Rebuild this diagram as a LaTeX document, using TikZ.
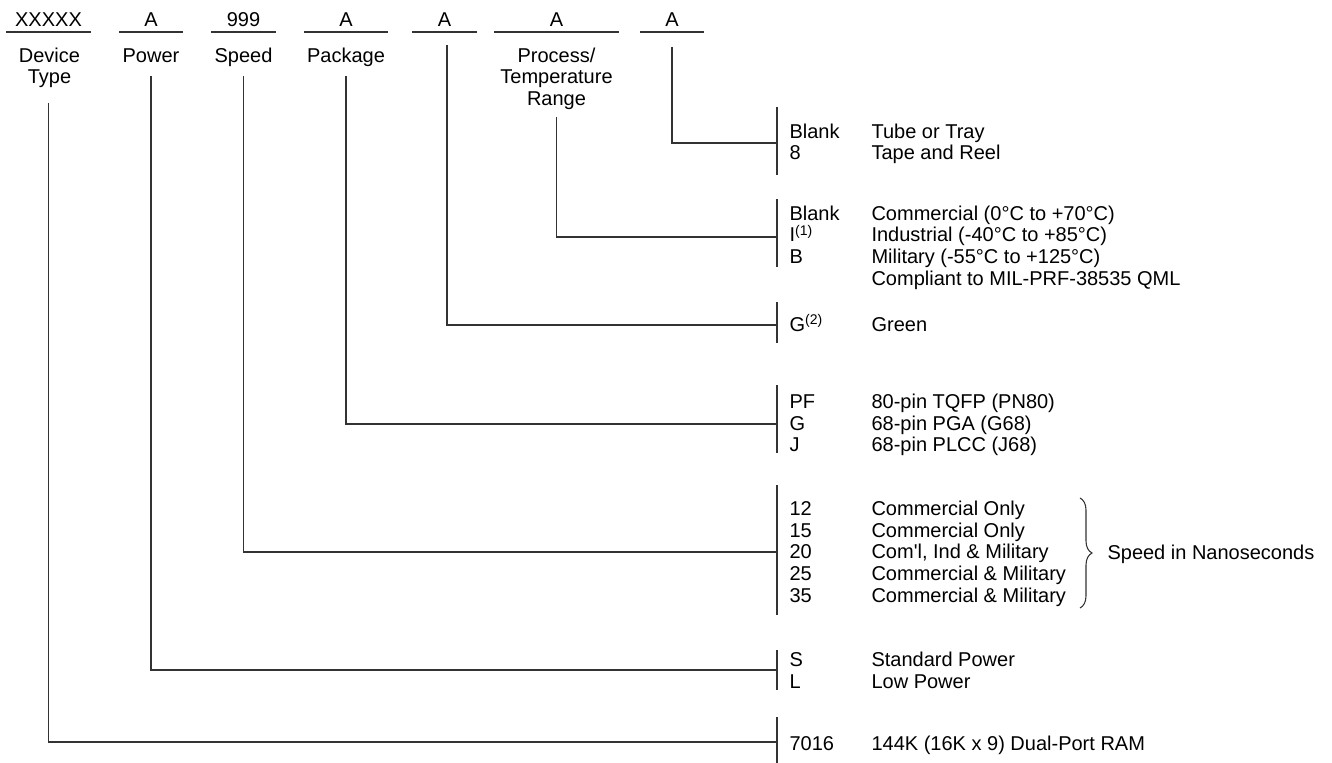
\documentclass[tikz,border=0pt]{standalone}
\usepackage{fontspec}
\setmainfont{Liberation Sans}
\usetikzlibrary{positioning,calc,decorations.pathreplacing}

\begin{document}
\begin{tikzpicture}[
  x=0.75pt, y=-0.75pt, line width=0.8pt,
  font=\fontsize{15}{16.1}\selectfont,
  code/.style={anchor=south, inner xsep=0pt, inner ysep=3.75pt, text depth=0pt},
  head/.style={anchor=north, align=center, inner sep=0pt},
  opt/.style={anchor=base west, inner sep=0pt},
  lead/.style={draw=black!80}
]
\useasboundingbox (0,0) rectangle (1332,763);

% ordering code fields
\foreach \n/\x/\w/\t in {dev/48.5/83/XXXXX, pwr/151/62/A, spd/243.5/63/999, pkg/346/82/A,
                         grn/444.5/63/A, tmp/556.5/123/A, pk/672/62/A}{
  \node[code, minimum width=\w*0.75pt] (c\n) at (\x,32) {\t};
  \draw[lead] (c\n.south west) -- (c\n.south east);
}

\node[head] (ldev) at (49.5,47.5) {Device\\Type};
\node[head, anchor=base] (lpwr) at (151,63) {Power};
\node[head, anchor=base] (lspd) at (243.5,63) {Speed};
\node[head, anchor=base] (lpkg) at (346,63) {Package};
\node[head] (ltmp) at (556.5,47.5) {Process/\\Temperature\\Range};

% option bars
\foreach \n/\t/\m/\b in {pk/107/143/175, tmp/199/237/267, grn/302/325/343, pkg/385/424/453,
                         spd/485/552/615, pwr/650/670/690, dev/717/742/763}{
  \coordinate (j\n) at (777,\m);
  \draw[lead] (777,\t) -- (777,\b);
}

\draw[lead] ($(cdev.south)+(0,71)$) |- (jdev);
\draw[lead] ($(cpwr.south)+(0,44)$) |- (jpwr);
\draw[lead] ($(cspd.south)+(0,44)$) |- (jspd);
\draw[lead] ($(cpkg.south)+(0,44)$) |- (jpkg);
\draw[lead] ($(cgrn.south)+(2.5,13)$) |- (jgrn);
\draw[lead] ($(ctmp.south)+(0,85)$) |- (jtmp);
\draw[lead] ($(cpk.south)+(0,15)$) |- (jpk);

% options
\foreach \y/\k/\d [count=\i] in {
    138.5/Blank/Tube or Tray, 160/8/Tape and Reel,
    220.5/Blank/{Commercial (0°C to +70°C)}, 242/I\textsuperscript{(1)}/{Industrial (-40°C to +85°C)},
    263.5/B/{Military (-55°C to +125°C)}, 285/{}/Compliant to MIL-PRF-38535 QML,
    331.5/G\textsuperscript{(2)}/Green,
    408.5/PF/80-pin TQFP (PN80), 430/G/68-pin PGA (G68), 451.5/J/68-pin PLCC (J68),
    515/12/Commercial Only, 537/15/Commercial Only, 558.5/20/{Com\textquotesingle l, Ind \& Military},
    580/25/Commercial \& Military, 602/35/Commercial \& Military,
    666.5/S/Standard Power, 688.5/L/Low Power,
    750/7016/144K (16K x 9) Dual-Port RAM}{
  \node[opt] (k\i) at (789,\y) {\k};
  \node[opt] (d\i) at (871,\y) {\d};
}

\coordinate (btop) at (1080,498);
\coordinate (bbot) at (1080,608);
\draw[lead, decorate, decoration={brace, amplitude=9pt}] (btop) -- (bbot);
\node[opt] (snote) at (1107,559.5) {Speed in Nanoseconds};
\end{tikzpicture}
\end{document}
